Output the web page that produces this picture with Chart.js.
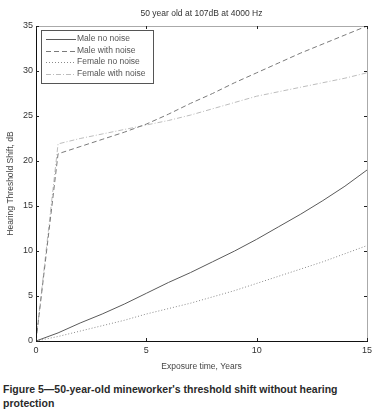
<!DOCTYPE html>
<html>
<head>
<meta charset="utf-8">
<script src="https://cdn.jsdelivr.net/npm/chart.js@4"></script>
<style>
  body { margin: 0; background: #fff; width: 379px; height: 417px; overflow: hidden; }
  #wrap { position: relative; width: 379px; height: 372px; }
  #caption {
    font-family: "Liberation Sans", Arial, sans-serif;
    font-weight: bold; font-size: 10.5px; color: #2a2a2a;
    line-height: 14px; margin: 10px 0 0 3px; width: 340px;
  }
</style>
</head>
<body>
<div id="wrap"><canvas id="chart" width="379" height="372"></canvas></div>
<div id="caption">Figure 5—50-year-old mineworker's threshold shift without hearing protection</div>
<script>
// Años de exposición y desplazamiento del umbral (dB)
const years = [0, 1, 2, 3, 4, 5, 6, 7, 8, 9, 10, 11, 12, 13, 14, 15];
const maleNoNoise = [0, 0.9, 2.0, 3.0, 4.1, 5.3, 6.5, 7.6, 8.8, 10.0, 11.3, 12.7, 14.1, 15.6, 17.2, 19.0];
const maleWithNoise = [0, 20.8, 21.6, 22.4, 23.2, 24.1, 25.2, 26.4, 27.5, 28.7, 29.8, 30.9, 32.0, 33.0, 34.0, 35.0];
const femaleNoNoise = [0, 0.5, 1.1, 1.7, 2.3, 3.0, 3.6, 4.2, 4.9, 5.6, 6.4, 7.2, 8.0, 8.8, 9.7, 10.6];
const femaleWithNoise = [0, 21.9, 22.5, 23.0, 23.5, 24.0, 24.5, 25.1, 25.8, 26.5, 27.2, 27.7, 28.2, 28.7, 29.2, 29.8];
const xTicks = [0, 5, 10, 15];
const yTicks = [0, 5, 10, 15, 20, 25, 30, 35];

const font = "Liberation Sans, Arial, sans-serif";

function serie(label, values, color, dash) {
  return {
    label,
    data: years.map((x, i) => ({ x, y: values[i] })),
    borderColor: color,
    borderWidth: 1,
    borderDash: dash,
    pointRadius: 0,
    fill: false,
    tension: 0
  };
}

// Marco estilo MATLAB, marcas hacia dentro y leyenda
const marco = {
  id: "marco",
  afterDraw(chart) {
    const ctx = chart.ctx;
    const a = chart.chartArea;
    const xs = chart.scales.x, ys = chart.scales.y;
    ctx.save();
    ctx.lineWidth = 1;
    // bordes superior y derecho (gris claro)
    ctx.strokeStyle = "#aaa";
    ctx.beginPath();
    ctx.moveTo(a.left, a.top + 0.5); ctx.lineTo(a.right + 0.5, a.top + 0.5);
    ctx.lineTo(a.right + 0.5, a.bottom);
    ctx.stroke();
    // bordes izquierdo e inferior (negro)
    ctx.strokeStyle = "#111";
    ctx.beginPath();
    ctx.moveTo(a.left + 0.5, a.top); ctx.lineTo(a.left + 0.5, a.bottom + 0.5);
    ctx.lineTo(a.right + 1, a.bottom + 0.5);
    ctx.stroke();
    // marcas
    ctx.strokeStyle = "#222";
    ctx.beginPath();
    xTicks.forEach(v => {
      const px = Math.round(xs.getPixelForValue(v)) + 0.5;
      ctx.moveTo(px, a.bottom); ctx.lineTo(px, a.bottom - 3);
      ctx.moveTo(px, a.top); ctx.lineTo(px, a.top + 3);
    });
    yTicks.forEach(v => {
      const py = Math.round(ys.getPixelForValue(v)) + 0.5;
      ctx.moveTo(a.left, py); ctx.lineTo(a.left + 3, py);
      ctx.moveTo(a.right, py); ctx.lineTo(a.right - 3, py);
    });
    ctx.stroke();
    // título
    ctx.fillStyle = "#333";
    ctx.font = "8.5px " + font;
    ctx.textAlign = "center";
    ctx.textBaseline = "middle";
    ctx.fillText("50 year old at 107dB at 4000 Hz", (a.left + a.right) / 2, 14);
    // leyenda
    const lx = a.left + 5, ly = a.top + 4, lw = 112, lh = 53;
    ctx.fillStyle = "#fff";
    ctx.fillRect(lx, ly, lw, lh);
    ctx.strokeStyle = "#555";
    ctx.strokeRect(lx + 0.5, ly + 0.5, lw, lh);
    ctx.textAlign = "left";
    chart.data.datasets.forEach((ds, i) => {
      const y = ly + 9 + i * 11.5;
      ctx.strokeStyle = ds.borderColor;
      ctx.setLineDash(ds.borderDash || []);
      ctx.beginPath();
      ctx.moveTo(lx + 5, Math.round(y) + 0.5); ctx.lineTo(lx + 35, Math.round(y) + 0.5);
      ctx.stroke();
      ctx.setLineDash([]);
      ctx.fillStyle = "#555";
      ctx.fillText(ds.label, lx + 36, y);
    });
    ctx.restore();
  }
};

new Chart(document.getElementById("chart"), {
  type: "line",
  data: {
    datasets: [
      serie("Male no noise", maleNoNoise, "#5a5a5a", []),
      serie("Male with noise", maleWithNoise, "#7a7a7a", [5, 3]),
      serie("Female no noise", femaleNoNoise, "#8a8a8a", [1, 2]),
      serie("Female with noise", femaleWithNoise, "#bdbdbd", [5, 2, 1, 2])
    ]
  },
  options: {
    responsive: false,
    animation: false,
    layout: { padding: { top: 26, right: 12, left: 0, bottom: 0 } },
    plugins: { legend: { display: false }, title: { display: false }, tooltip: { enabled: false } },
    scales: {
      x: {
        type: "linear", min: 0, max: 15,
        afterBuildTicks: s => { s.ticks = xTicks.map(v => ({ value: v })); },
        afterFit: s => { s.height = 31; },
        grid: { display: false, drawTicks: false },
        border: { display: false },
        ticks: { color: "#333", font: { family: font, size: 9 }, padding: 4, maxRotation: 0 },
        title: { display: true, text: "Exposure time, Years", color: "#444", font: { family: font, size: 8.5 }, padding: { top: 2, bottom: 0 } }
      },
      y: {
        type: "linear", min: 0, max: 35,
        afterBuildTicks: s => { s.ticks = yTicks.map(v => ({ value: v })); },
        afterFit: s => { s.width = 36; },
        grid: { display: false, drawTicks: false },
        border: { display: false },
        ticks: { color: "#333", font: { family: font, size: 9 }, padding: 3 },
        title: { display: true, text: "Hearing Threshold Shift, dB", color: "#444", font: { family: font, size: 8.5 }, padding: { top: 6, bottom: 2 } }
      }
    }
  },
  plugins: [marco]
});
</script>
</body>
</html>
